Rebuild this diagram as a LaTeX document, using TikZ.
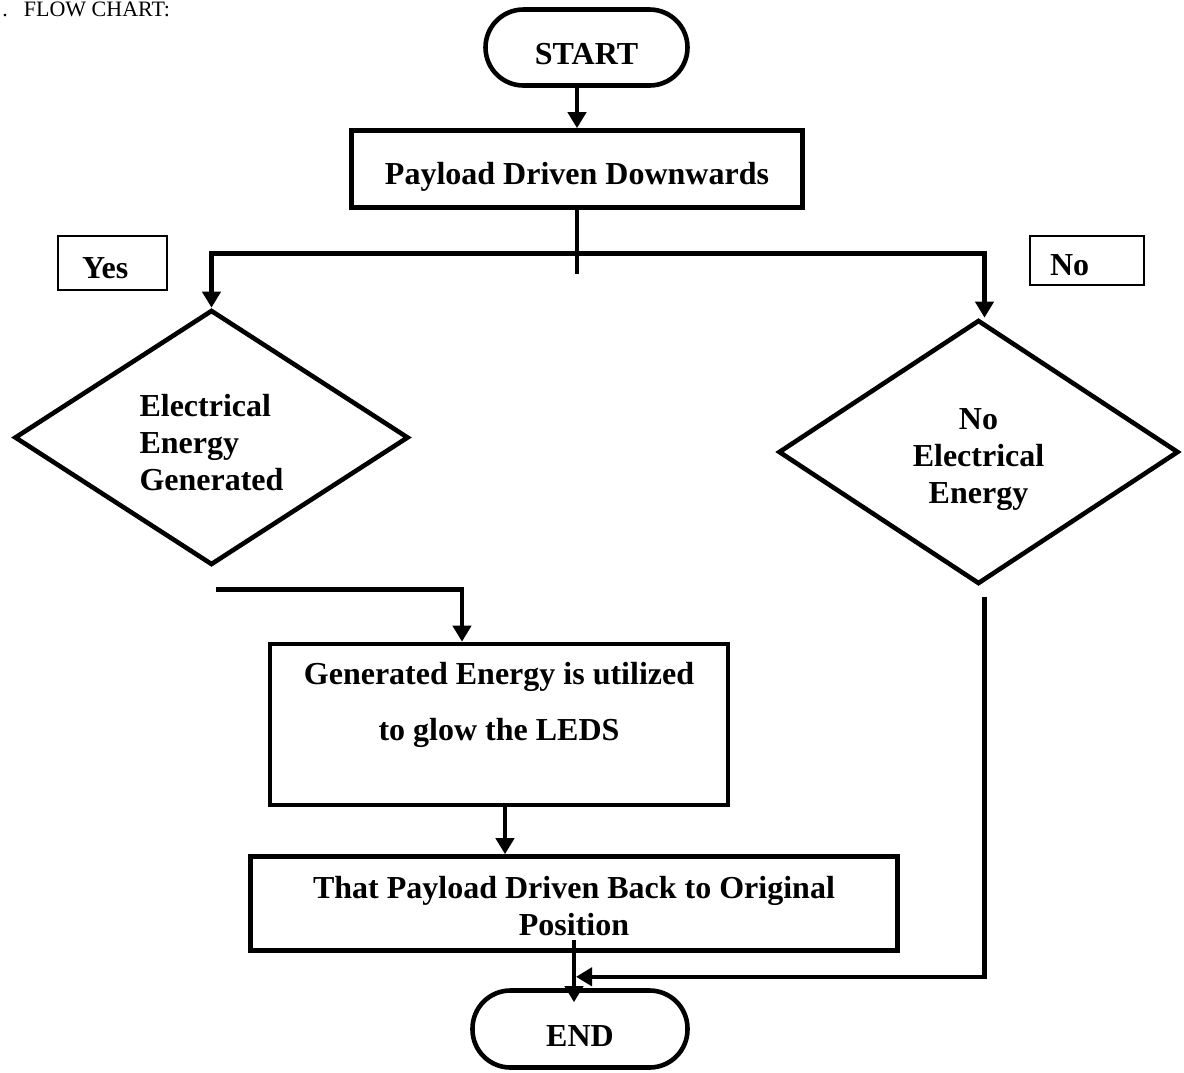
\documentclass[tikz,border=0pt]{standalone}
\usepackage{fontspec}
\setmainfont{Liberation Serif}
\usepackage{tikz}
\usetikzlibrary{positioning, arrows.meta, shapes.geometric}

\newcommand{\droptext}[1]{\rule{0pt}{#1}}

\tikzset{
	flowfont/.style={font=\fontsize{16}{18.5}\selectfont\bfseries},
	lowtext/.style={text height=#1, text depth=0pt},
	terminal/.style={draw, rectangle, rounded corners=19pt, line width=2.3pt, text centered, flowfont, lowtext=17pt},
	process/.style={draw, rectangle, line width=2.3pt, text centered, flowfont},
	decision/.style={draw, diamond, aspect=1.55, line width=2.3pt, flowfont},
	tag/.style={draw, rectangle, line width=0.8pt, align=left, flowfont, lowtext=15pt},
	link/.style={line width=2.2pt},
	arr/.style={link, -{Triangle[length=8pt, width=9pt]}}
}

\begin{document}
\begin{tikzpicture}[x=0.5pt, y=-0.5pt]
		\useasboundingbox (0,0) rectangle (1184,1072);
		
		\node (title) at (2,16) [anchor=base west, inner sep=0pt, font=\fontsize{11}{12}\selectfont]{.\hspace{8pt}FLOW CHART:};
		
		\node (start) at (586.5,47.5) [terminal, minimum width=101pt, minimum height=38pt]{START};
		
		\node (payload) at (577,169) [process, lowtext=15.6pt, minimum width=225.5pt, minimum height=38.5pt]{Payload Driven Downwards};
		
		\node (yesbox) at (112.5,263) [tag, minimum height=27pt, text width=30.5pt, inner xsep=12pt]{Yes};
		
		\node (nobox) at (1087,260.5) [tag, minimum height=24.5pt, text width=37pt, inner xsep=10pt]{No};
		
		\node (ldia) at (211.5,437.5) [decision, align=left, minimum width=197pt, minimum height=127.5pt]{\droptext{16pt}Electrical\\Energy\\Generated};
		
		\node (rdia) at (978.5,452) [decision, align=center, minimum width=200pt, minimum height=132pt]{\droptext{18pt}No\\Electrical\\Energy};
		
		\node (glow) at (499,724.5) [process, align=center, minimum width=229pt, minimum height=80.5pt, font=\fontsize{16}{28}\selectfont\bfseries]{\droptext{16pt}Generated Energy is utilized\\to glow the LEDS\\\mbox{}};
		
		\node (back) at (574,903.5) [process, align=center, minimum width=323.5pt, minimum height=47pt]{\droptext{14pt}That Payload Driven Back to Original\\Position};
		
		\node (finish) at (580,1029) [terminal, minimum width=107.5pt, minimum height=38.5pt]{END};
		
		%Links
		\coordinate (split) at ([yshift=-21.75pt]payload.south);
		\coordinate (glowout) at ([xshift=3pt]glow.south);
		\coordinate (endin) at ([yshift=-7pt]finish.north);
		\coordinate (merge) at ([xshift=1pt, yshift=-12pt]back.south);
		
		\draw[arr] (start.south -| payload.north) -- (payload.north);
		\draw[link] (payload.south) -- ++(0,-32pt);
		\draw[arr] (split) -| (ldia.north);
		\draw[arr] (split) -| ([xshift=3pt]rdia.north);
		\draw[arr] ([xshift=2pt, yshift=-11pt]ldia.south) -| ([xshift=-18.5pt]glow.north);
		\draw[arr] (glowout) -- (glowout |- back.north);
		\draw[arr] ([yshift=6.5pt]back.south) -- (back.south |- endin);
		\draw[arr] ([xshift=3pt, yshift=-5.5pt]rdia.south) |- (merge);
		
\end{tikzpicture}
\end{document}
